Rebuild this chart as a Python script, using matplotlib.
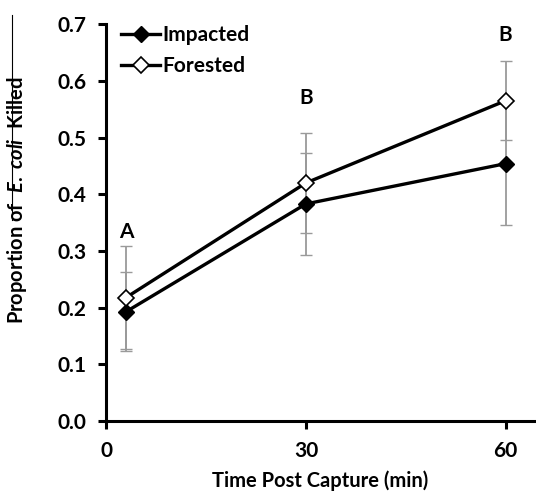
import matplotlib
matplotlib.use('Agg')
import matplotlib.pyplot as plt
from matplotlib.lines import Line2D

plt.rcParams['font.family'] = ['Lato', 'DejaVu Sans']
plt.rcParams['font.weight'] = 'bold'
plt.rcParams['mathtext.fontset'] = 'custom'
plt.rcParams['mathtext.it'] = 'Lato:italic'
plt.rcParams['mathtext.rm'] = 'Lato:bold'

# data
time = [3, 30, 60]
impacted = [0.193, 0.383, 0.454]
impacted_err = [0.070, 0.090, 0.108]
forested = [0.218, 0.420, 0.565]
forested_err = [0.090, 0.088, 0.070]
letters = ['A', 'B', 'B']
letter_y = [0.333, 0.570, 0.680]
xticks = [0, 30, 60]
yticks = [0.0, 0.1, 0.2, 0.3, 0.4, 0.5, 0.6, 0.7]

fig = plt.figure(figsize=(5.36, 4.92), dpi=100)
ax = fig.add_axes([0.198, 0.144, 0.800, 0.807])

# error bars (grey, drawn under the lines)
ax.errorbar(time, forested, yerr=forested_err, fmt='none', ecolor='#9a9a9a',
            elinewidth=1.3, capsize=4, capthick=1.0, zorder=1)
ax.errorbar(time, impacted, yerr=impacted_err, fmt='none', ecolor='#9a9a9a',
            elinewidth=1.3, capsize=4, capthick=1.0, zorder=1)

ax.plot(time, impacted, color='black', lw=2.4, marker='D', markersize=8.5,
        markerfacecolor='black', markeredgecolor='black', label='Impacted', zorder=3)
ax.plot(time, forested, color='black', lw=2.4, marker='D', markersize=8.5,
        markerfacecolor='white', markeredgecolor='black', markeredgewidth=1.2,
        label='Forested', zorder=3)

for x, y, t in zip(time, letter_y, letters):
    ax.text(x, y, t, ha='center', va='center', fontsize=15, fontweight='bold')

ax.set_xlim(0, 64.4)
ax.set_ylim(0, 0.7)
ax.set_xticks(xticks)
ax.set_yticks(yticks)
ax.set_yticklabels(['%.1f' % v for v in yticks])

for s in ['top', 'right']:
    ax.spines[s].set_visible(False)
for s in ['left', 'bottom']:
    ax.spines[s].set_linewidth(2.2)
ax.tick_params(axis='both', direction='out', length=6, width=2.2,
               labelsize=15, pad=8)
for lab in ax.get_xticklabels() + ax.get_yticklabels():
    lab.set_fontweight('bold')

ax.set_xlabel('Time Post Capture (min)', fontsize=14.5, fontweight='bold', labelpad=7)
ax.set_ylabel(r'Proportion of $\ \mathit{E.\ coli}\ \ $Killed', fontsize=14.5,
              fontweight='bold')
ax.yaxis.set_label_coords(-0.18, 0.557)

leg = ax.legend(loc='upper left', bbox_to_anchor=(0.0, 1.035), frameon=False,
                fontsize=15, handlelength=1.9, handletextpad=0.1,
                labelspacing=0.55, borderaxespad=0.3)
for t in leg.get_texts():
    t.set_fontweight('bold')

# thin stray line at the left edge, as in the scanned original
fig.add_artist(Line2D([0.022, 0.022], [0.553, 0.970], color='black', lw=0.8))

fig.savefig('out.png', dpi=100)
